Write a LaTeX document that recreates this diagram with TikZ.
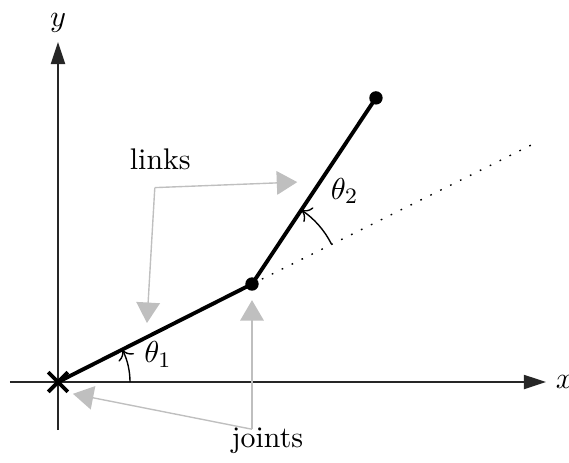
\documentclass[tikz,border=0pt]{standalone}
\usepackage{amsmath}
\usetikzlibrary{arrows.meta,calc,shapes.misc}

\begin{document}
\begin{tikzpicture}[
  x=1cm,
  y=1cm,
  >=Latex,
  font=\fontsize{10.8pt}{13pt}\selectfont,
  axis/.style={draw=black!85,line width=0.5pt,-{Triangle[length=2.8mm,width=1.8mm]}},
  link/.style={draw=black,line width=1.4pt},
  pointer/.style={draw=black!25,line width=0.5pt,-{Triangle[length=2.6mm,width=3.0mm]}},
  anglearc/.style={draw=black,line width=0.5pt,-{To[length=1.2mm,width=2.2mm]}},
  jointdot/.style={circle,fill=black,inner sep=0pt,minimum size=1.7mm}
]
\useasboundingbox (-0.737,-1.029) rectangle (6.493,4.854);

% ---------------------------------------------------------------- axes
\coordinate (xs) at (-0.61,0);
\coordinate (xe) at (6.20,0);
\coordinate (ys) at (0,-0.61);
\coordinate (ye) at (0,4.32);
\draw[axis] (xs) -- (xe) node[right,text=black] (xlab) {$x$};
\draw[axis] (ys) -- (ye) node[above,text=black] (ylab) {$y$};

% ---------------------------------------------------------------- arm (base, joint, end)
\node[draw,cross out,line width=1.4pt,minimum size=2.0mm,inner sep=0pt] (base) at (0,0) {};
\node[jointdot] (joint) at (2.465,1.245) {};
\node[jointdot] (tip) at (4.04,3.61) {};
\coordinate (ext) at (6.07,3.04);
% extension of the first link
\draw[dash pattern=on 0.6pt off 3.4pt,line width=0.5pt] (joint.center) -- (ext);
\draw[link] (base.center) -- (joint.center) -- (tip.center);

% ---------------------------------------------------------------- joint angles
\draw[anglearc] ($(base.center)+(0.915,0)$) arc[start angle=0,end angle=26.8,radius=0.915];
\node (th1) at (1.27,0.35) {$\theta_1$};
\draw[anglearc] ($(joint.center)+(26.8:1.13)$) arc[start angle=26.8,end angle=56.5,radius=1.13];
\node (th2) at (3.64,2.43) {$\theta_2$};

% ---------------------------------------------------------------- labels with pointers
\node (links) at (1.30,2.83) {links};
\coordinate (lkc) at (1.23,2.47);
\coordinate (lk1) at (3.04,2.54);
\coordinate (lk2) at (1.13,0.75);
\draw[pointer] (lkc) -- (lk1);
\draw[pointer] (lkc) -- (lk2);

\node (joints) at (2.66,-0.74) {joints};
\coordinate (jtc) at (2.465,-0.60);
\coordinate (jt1) at (2.465,1.04);
\coordinate (jt2) at (0.19,-0.15);
\draw[pointer] (jtc) -- (jt1);
\draw[pointer] (jtc) -- (jt2);

\end{tikzpicture}
\end{document}
